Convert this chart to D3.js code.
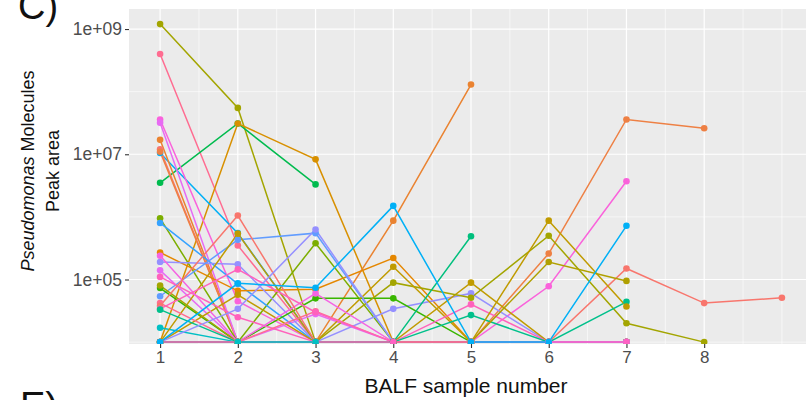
<!DOCTYPE html>
<html>
<head>
<meta charset="utf-8">
<script src="https://cdn.jsdelivr.net/npm/d3@7"></script>
<style>
  body { margin: 0; background: #fff; }
  svg { display: block; font-family: "Liberation Sans", Arial, sans-serif; }
</style>
</head>
<body>
<div id="chart"></div>
<script>
// BALF samples on the x axis
const samples = [1, 2, 3, 4, 5, 6, 7, 8, 9];
const xTickLabels = ['1', '2', '3', '4', '5', '6', '7', '8'];
const yTicks = [1e5, 1e7, 1e9];
const yMinor = [1e4, 1e6, 1e8];

// peak area per molecule, one entry per sample (0 = not detected, null = no sample)
const molecules = ['M01','M02','M03','M04','M05','M06','M07','M08','M09','M10','M11','M12','M13','M14',
  'M15','M16','M17','M20','M21','M22','M23','M24','M26','M27','M28','M29','M30','M33','M34','M35',
  'M25','M18','M32','M19'];
const peakAreas = [
  [1.2e9, 5.5e7, 0, 0, 0, 0, 0],
  [4e8, 3.5e5, 0, 0, 0, 0, 0],
  [3.5e6, 3.1e7, 3.3e6],
  [0, 3.1e7, 8.3e6, 0, 0, 0, 0],
  [1.05e7, 5.5e5, 0, 0, 0, 0, 0],
  [1.7e7, 0, 0, 8.7e5, 1.3e8],
  [1.2e7, 0, 0, 0, 0, 0, 1.5e5, 4.2e4, 5.1e4],
  [1.1e7, 0, 0, 0, 0, 2.6e5, 3.6e7, 2.6e7],
  [3.6e7, 4.5e4, 0, 0, 0, 7.8e4, 3.7e6],
  [3.2e7, 0, 2.8e4, 0, 0, 0, 0],
  [9.5e5, 0, 3.8e5, 0, 0, 0, 0],
  [8e5, 8.5e4, 0, 0, 0, 0, 0],
  [2.7e5, 6.6e4, 7e4, 2.2e5, 0, 0, 0],
  [1.9e5, 1.75e5, 0, 3.4e4, 6e4, 0, 0],
  [1.4e5, 0, 0, 0, 0, 0, 0],
  [5.4e4, 4.3e5, 5.5e5, 0, 0, 0, 0],
  [1.7e4, 0, 0, 0, 0, 0, 0],
  [7.3e4, 0, 5e4, 5e4, 0, 0, 0],
  [0, 5.4e5, 0, 0, 8.9e4, 0, 0],
  [8e4, 0, 0, 8.9e4, 5.1e4, 5e5, 2e4, 0],
  [0, 5.7e4, 0, 1.6e5, 0, 0, 0],
  [1.1e5, 2.5e4, 0, 0, 4e4, 0, 0],
  [2.4e5, 0, 6e4, 0, 0, 0, 0],
  [4.2e4, 0, 3.1e4, 0, 0, 0, 0],
  [3.8e4, 1.05e6, 0, 0, 0, 0, 0],
  [3.4e4, 1.45e5, 3e4, 0, 0, 0, 0],
  [3.3e4, 0, 0, 0, 2.7e4, 0, 4.4e4],
  [0, 3.4e4, 6.3e5, 0, 0, 0, 0],
  [0, 0, 0, 0, 0, 8.7e5, 3.7e4],
  [0, 0, 0, 0, 0, 1.9e5, 9.5e4],
  [0, 0, 0, 0, 4.9e5],
  [0, 0, 0, 0, 0, 0, 0],
  [0, 8.7e4, 7.4e4, 1.5e6, 0, 0, 7.2e5],
  [null, 0, 0]
];
const lineColors = [
  '#A3A500', '#FF6C91', '#00BB4E', '#D89000', '#00B0F6', '#EA8331', '#F8766D', '#EE8044',
  '#FA62DB', '#E76BF3', '#7CAE00', '#35A2FF', '#E58700', '#9590FF', '#E76BF3', '#619CFF',
  '#00BFC4', '#39B600', '#C09B00', '#A3A500', '#C09B00', '#FF62BC', '#F564E3', '#FF6C91',
  '#F8766D', '#FF62BC', '#00C08B', '#9590FF', '#C09B00', '#B0A000', '#00BF7D', '#FF61C3',
  '#00B0F6', '#00C1C4'
];

const width = 806, height = 400;
const margin = { left: 129, top: 9, right: 813, bottom: 344 };
const floor = 1e4; // undetected values sit on the floor of the log axis

const svg = d3.select('#chart').append('svg')
  .attr('width', width)
  .attr('height', height);

const x = d3.scaleLinear().domain([0.6, 9.4]).range([margin.left, margin.right]);
const y = d3.scaleLog().domain([Math.pow(10, 3.97), Math.pow(10, 9.32)]).range([margin.bottom, margin.top]);

// panel background
svg.append('rect')
  .attr('x', margin.left).attr('y', margin.top)
  .attr('width', margin.right - margin.left)
  .attr('height', margin.bottom - margin.top)
  .attr('fill', '#EBEBEB');

svg.append('clipPath').attr('id', 'panel')
  .append('rect')
  .attr('x', margin.left).attr('y', margin.top)
  .attr('width', margin.right - margin.left)
  .attr('height', margin.bottom - margin.top);

const grid = svg.append('g').attr('clip-path', 'url(#panel)');

// minor grid
const xMinor = d3.range(1.5, 9.5, 0.5).filter(v => !xTickLabels.includes(String(v)));
grid.selectAll('.xminor').data(xMinor).join('line')
  .attr('x1', d => x(d)).attr('x2', d => x(d))
  .attr('y1', margin.top).attr('y2', margin.bottom)
  .attr('stroke', '#fff').attr('stroke-width', 0.6);
grid.selectAll('.yminor').data(yMinor).join('line')
  .attr('x1', margin.left).attr('x2', margin.right)
  .attr('y1', d => y(d)).attr('y2', d => y(d))
  .attr('stroke', '#fff').attr('stroke-width', 0.6);

// major grid
grid.selectAll('.xmajor').data(xTickLabels.map(Number)).join('line')
  .attr('x1', d => x(d)).attr('x2', d => x(d))
  .attr('y1', margin.top).attr('y2', margin.bottom)
  .attr('stroke', '#fff').attr('stroke-width', 1.2);
grid.selectAll('.ymajor').data(yTicks).join('line')
  .attr('x1', margin.left).attr('x2', margin.right)
  .attr('y1', d => y(d)).attr('y2', d => y(d))
  .attr('stroke', '#fff').attr('stroke-width', 1.2);

// series
const series = molecules.map((m, i) => ({
  name: m,
  color: lineColors[i],
  points: peakAreas[i].map((v, j) => ({ sample: samples[j], value: v }))
}));

const line = d3.line()
  .defined(d => d.value !== null)
  .x(d => x(d.sample))
  .y(d => y(Math.max(d.value, floor)));

const plot = svg.append('g').attr('clip-path', 'url(#panel)');

plot.append('g').selectAll('path')
  .data(series)
  .join('path')
  .attr('d', d => line(d.points))
  .attr('fill', 'none')
  .attr('stroke', d => d.color)
  .attr('stroke-width', 1.5);

plot.append('g').selectAll('g')
  .data(series)
  .join('g')
  .attr('fill', d => d.color)
  .selectAll('circle')
  .data(d => d.points.filter(p => p.value !== null))
  .join('circle')
  .attr('cx', d => x(d.sample))
  .attr('cy', d => y(Math.max(d.value, floor)))
  .attr('r', 3.3);

// axes
const xAxis = d3.axisBottom(x)
  .tickValues(xTickLabels.map(Number))
  .tickFormat(d => String(d))
  .tickSize(4).tickPadding(3);
const gx = svg.append('g')
  .attr('transform', `translate(0,${margin.bottom})`)
  .call(xAxis);
gx.select('.domain').remove();
gx.selectAll('.tick line').attr('stroke', '#333').attr('stroke-width', 1.1);
gx.selectAll('.tick text').attr('fill', '#4D4D4D').attr('font-size', 17);

const yAxis = d3.axisLeft(y)
  .tickValues(yTicks)
  .tickFormat(d => '1e+0' + Math.round(Math.log10(d)))
  .tickSize(4).tickPadding(3);
const gy = svg.append('g')
  .attr('transform', `translate(${margin.left},0)`)
  .call(yAxis);
gy.select('.domain').remove();
gy.selectAll('.tick line').attr('stroke', '#333').attr('stroke-width', 1.1);
gy.selectAll('.tick text').attr('fill', '#4D4D4D').attr('font-size', 17.5);

// axis titles
svg.append('text')
  .attr('x', 466)
  .attr('y', 393)
  .attr('text-anchor', 'middle')
  .attr('font-size', 21)
  .attr('fill', '#111')
  .text('BALF sample number');

const yTitle = svg.append('text')
  .attr('transform', 'translate(0,171) rotate(-90)')
  .attr('text-anchor', 'middle')
  .attr('font-size', 18)
  .attr('fill', '#111');
yTitle.append('tspan').attr('x', 0).attr('y', 34)
  .append('tspan').attr('font-style', 'italic').text('Pseudomonas');
yTitle.select('tspan').append('tspan').text(' Molecules');
yTitle.append('tspan').attr('x', 0).attr('y', 59).text('Peak area');

// panel tags from the surrounding figure
svg.append('text').attr('x', 18).attr('y', 19).attr('font-size', 38).attr('fill', '#111').text('C)');
svg.append('text').attr('x', 20).attr('y', 419).attr('font-size', 38).attr('fill', '#111').text('E)');
</script>
</body>
</html>
